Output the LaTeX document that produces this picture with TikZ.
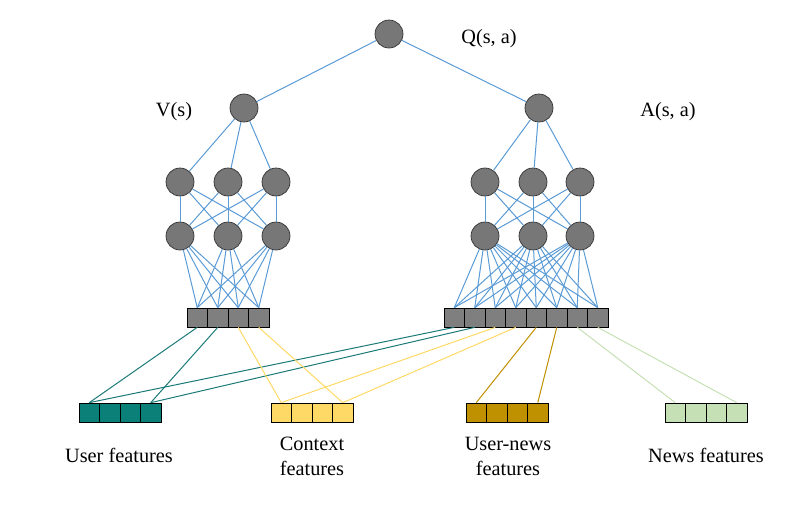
\documentclass[tikz,border=0pt]{standalone}
\usepackage{fontspec}
\setmainfont{Liberation Serif}
\definecolor{linkblue}{HTML}{5B9BD5}
\definecolor{neurongray}{HTML}{777777}
\definecolor{cellgray}{HTML}{7F7F7F}
\definecolor{tealf}{HTML}{0B8078}
\definecolor{tealline}{HTML}{1A7A78}
\definecolor{goldlight}{HTML}{FFD966}
\definecolor{golddark}{HTML}{BF9000}
\definecolor{greenlight}{HTML}{C5E0B4}
\tikzset{
  neuron/.style={circle,draw=black!80,line width=0.7pt,fill=neurongray,minimum size=28pt,inner sep=0pt},
  cell/.style={rectangle,draw=black,line width=0.7pt,minimum width=20.5pt,minimum height=19pt,inner sep=0pt},
  link/.style={linkblue,line width=1pt},
  flink/.style={line width=1pt},
  lbl/.style={font=\fontsize{20.3}{25}\selectfont,inner sep=0pt,anchor=base,align=center},
}
\begin{document}
\begin{tikzpicture}[x=1pt,y=-1pt]
\useasboundingbox (0,0) rectangle (800,507);
% neurons
\node[neuron] (q) at (389,34) {};
\node[neuron] (v) at (244,108) {};
\node[neuron] (a) at (539,108) {};
\foreach \i/\x in {1/180,2/228,3/276}{
  \node[neuron] (la\i) at (\x,182) {};
  \node[neuron] (lb\i) at (\x,236) {};
}
\foreach \i/\x in {1/485,2/533,3/580}{
  \node[neuron] (ra\i) at (\x,182) {};
  \node[neuron] (rb\i) at (\x,236) {};
}
% hidden input bars
\foreach \i in {1,...,4}{
  \node[cell,fill=cellgray] (L\i) at ({187+10.25+20.5*(\i-1)},317.5) {};
}
\foreach \i in {1,...,8}{
  \node[cell,fill=cellgray] (R\i) at ({444+10.25+20.5*(\i-1)},317.5) {};
}
% feature bars
\foreach \i in {1,...,4}{
  \node[cell,fill=tealf] (U\i) at ({79+10.25+20.5*(\i-1)},412.5) {};
  \node[cell,fill=goldlight] (C\i) at ({271+10.25+20.5*(\i-1)},412.5) {};
  \node[cell,fill=golddark] (UN\i) at ({466+10.25+20.5*(\i-1)},412.5) {};
  \node[cell,fill=greenlight] (N\i) at ({665+10.25+20.5*(\i-1)},412.5) {};
}
% blue links
\draw[link] (q) -- (v);
\draw[link] (q) -- (a);
\foreach \i in {1,2,3}{
  \draw[link] (v) -- (la\i);
  \draw[link] (a) -- (ra\i);
  \foreach \j in {1,2,3}{
    \draw[link] (la\i) -- (lb\j);
    \draw[link] (ra\i) -- (rb\j);
  }
  \foreach \k in {1,...,4}{
    \draw[link] (lb\i) -- (L\k.north);
  }
  \foreach \k in {1,...,8}{
    \draw[link] (rb\i) -- (R\k.north);
  }
}
% feature links
\draw[flink,tealline] (L1.south) -- (U1.north);
\draw[flink,tealline] (L2.south) -- (U4.north);
\draw[flink,tealline] (R1.south) -- (U1.north);
\draw[flink,tealline] (R2.south) -- (U4.north);
\draw[flink,goldlight] (L3.south) -- (C1.north);
\draw[flink,goldlight] (L4.south) -- (C4.north);
\draw[flink,goldlight] (R3.south) -- (C1.north);
\draw[flink,goldlight] (R4.south) -- (C4.north);
\draw[flink,golddark] (R5.south) -- (UN1.north);
\draw[flink,golddark] (R6.south) -- (UN4.north);
\draw[flink,greenlight] (R7.south) -- (N1.north);
\draw[flink,greenlight] (R8.south) -- (N4.north);
% labels
\node[lbl] (tq) at (489,43) {Q(s, a)};
\node[lbl] (tv) at (174,116) {V(s)};
\node[lbl] (ta) at (668,116) {A(s, a)};
\node[lbl] (tu) at (119,462) {User features};
\node[lbl] (tc) at (312,475) {Context\\features};
\node[lbl] (tun) at (508,475) {User-news\\features};
\node[lbl] (tn) at (706,462) {News features};
\end{tikzpicture}
\end{document}
